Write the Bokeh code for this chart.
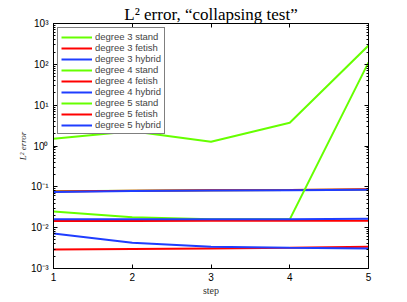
from bokeh.plotting import figure
from bokeh.models import Range1d, LogAxis, LinearAxis, Legend, FixedTicker
from bokeh.embed import file_html
from bokeh.resources import INLINE

steps = [1, 2, 3, 4, 5]
deg3_stand = [0.078, 0.080, 0.082, 0.084, 0.086]
deg3_fetish = [0.077, 0.080, 0.082, 0.084, 0.087]
deg3_hybrid = [0.075, 0.079, 0.081, 0.083, 0.085]
deg4_stand = [0.025, 0.018, 0.016, 0.016, 112.0]
deg4_fetish = [0.0146, 0.0146, 0.0147, 0.0147, 0.0148]
deg4_hybrid = [0.016, 0.016, 0.016, 0.016, 0.0165]
deg5_stand = [1.5, 2.3, 1.27, 3.7, 288.0]
deg5_fetish = [0.0029, 0.0030, 0.0031, 0.0032, 0.0034]
deg5_hybrid = [0.0072, 0.0043, 0.0034, 0.0032, 0.0031]

series = [
    ("degree 3 stand", deg3_stand, "#66ff00"),
    ("degree 3 fetish", deg3_fetish, "#ff0000"),
    ("degree 3 hybrid", deg3_hybrid, "#1f3dff"),
    ("degree 4 stand", deg4_stand, "#66ff00"),
    ("degree 4 fetish", deg4_fetish, "#ff0000"),
    ("degree 4 hybrid", deg4_hybrid, "#1f3dff"),
    ("degree 5 stand", deg5_stand, "#66ff00"),
    ("degree 5 fetish", deg5_fetish, "#ff0000"),
    ("degree 5 hybrid", deg5_hybrid, "#1f3dff"),
]

title_text = "L\u00b2 error, \u201ccollapsing test\u201d"
ytick_vals = [1e-3, 1e-2, 1e-1, 1e0, 1e1, 1e2, 1e3]
ytick_labels = ["10\u207b\u00b3", "10\u207b\u00b2", "10\u207b\u00b9", "10\u2070", "10\u00b9", "10\u00b2", "10\u00b3"]
yminor = [m * 10.0 ** e for e in range(-3, 3) for m in range(2, 10)]

p = figure(width=407, height=302, output_backend="svg", toolbar_location=None,
           y_axis_type="log", x_range=Range1d(1, 5), y_range=Range1d(1e-3, 1e3),
           min_border_left=53, min_border_right=39, min_border_top=23, min_border_bottom=34)
p.background_fill_color = "white"
p.border_fill_color = "white"
p.outline_line_color = "black"
p.outline_line_width = 1
p.grid.visible = False

renderers = []
for name, vals, col in series:
    r = p.line(steps, vals, line_color=col, line_width=2)
    renderers.append((name, [r]))

def style(ax, labels=True):
    ax.major_tick_in = 4
    ax.major_tick_out = 0
    ax.minor_tick_in = 2
    ax.minor_tick_out = 0
    ax.axis_line_color = "black"
    ax.major_tick_line_color = "black"
    ax.minor_tick_line_color = "black"
    ax.major_label_text_font = "Liberation Sans"
    ax.major_label_text_font_size = "10px"
    ax.major_label_text_color = "black"
    ax.major_label_standoff = 4
    if not labels:
        ax.major_label_text_color = None
        ax.major_label_text_font_size = "1px"
        ax.major_label_standoff = 0

xb = p.xaxis[0]
xb.ticker = FixedTicker(ticks=steps)
xb.axis_label = "step"
xb.axis_label_text_font = "Liberation Serif"
xb.axis_label_text_font_style = "normal"
xb.axis_label_text_font_size = "10px"
xb.axis_label_text_color = "#333333"
xb.axis_label_standoff = 1
style(xb)
xb.minor_tick_in = 0

yl = p.yaxis[0]
yl.ticker = FixedTicker(ticks=ytick_vals, minor_ticks=yminor)
yl.axis_label = "L\u00b2 error"
yl.axis_label_text_font = "Liberation Serif"
yl.axis_label_text_font_style = "italic"
yl.axis_label_text_font_size = "9px"
yl.axis_label_text_color = "#333333"
yl.axis_label_standoff = 0
yl.major_label_overrides = {v: s for v, s in zip(ytick_vals, ytick_labels)}
style(yl)
yl.major_label_standoff = 5

xt = LinearAxis(ticker=FixedTicker(ticks=steps))
style(xt, labels=False)
xt.minor_tick_in = 0
p.add_layout(xt, "above")

yr = LogAxis(ticker=FixedTicker(ticks=ytick_vals, minor_ticks=yminor))
style(yr, labels=False)
p.add_layout(yr, "right")

legend = Legend(items=renderers, location="top_left")
legend.label_text_font = "Liberation Sans"
legend.label_text_font_size = "9.5px"
legend.label_text_line_height = 1.0
legend.label_height = 10
legend.glyph_height = 10
legend.glyph_width = 31
legend.spacing = 0
legend.padding = 3
legend.margin = 4
legend.label_standoff = 3
legend.border_line_color = "black"
legend.border_line_width = 1
legend.background_fill_alpha = 1
p.add_layout(legend, "center")

p.title.text = title_text
p.title.align = "center"
p.title.text_font = "Liberation Serif"
p.title.text_font_size = "17px"
p.title.text_font_style = "normal"
p.title.text_color = "black"
p.title.standoff = 0
p.title.offset = 0

open("out.html", "w").write(file_html(p, INLINE))
